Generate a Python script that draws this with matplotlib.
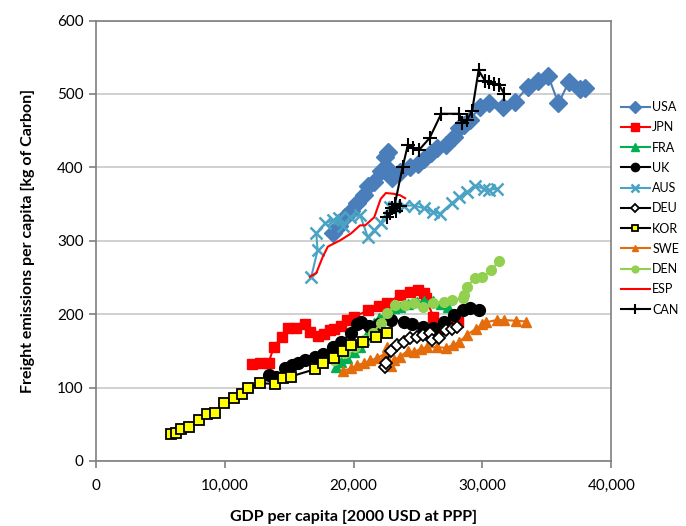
import matplotlib
matplotlib.use('Agg')
import matplotlib.pyplot as plt
from matplotlib.ticker import FuncFormatter

plt.rcParams['font.family'] = ['Lato', 'DejaVu Sans']

# GDP per capita (thousand USD) and freight emissions (kg C) per country
usa_x = [18.4, 18.9, 19.3, 19.8, 20.3, 20.8, 21.1, 21.6, 22.1, 22.4, 22.7, 22.5, 23.0, 23.6, 24.4, 25.0,
         25.5, 26.0, 26.5, 27.2, 27.8, 28.2, 28.6, 29.0, 29.8, 30.5, 31.6, 32.5, 33.5, 34.3, 35.1, 35.9,
         36.7, 37.6, 38.0]
usa_y = [310, 320, 332, 340, 351, 362, 375, 380, 395, 414, 421, 400, 385, 393, 400, 405,
         412, 420, 426, 430, 441, 453, 458, 464, 482, 487, 482, 489, 509, 518, 525, 487,
         516, 507, 508]

jpn_x = [12.1, 12.7, 13.4, 13.8, 14.4, 14.9, 15.5, 16.2, 16.6, 17.2, 17.7, 18.2, 18.5, 19.0, 19.5, 20.0,
         21.1, 22.0, 22.6, 23.6, 24.4, 25.0, 25.5, 25.6, 26.2, 26.7, 27.5, 28.1]
jpn_y = [132, 133, 134, 155, 169, 181, 181, 187, 176, 170, 173, 179, 180, 184, 192, 196,
         205, 211, 215, 226, 230, 233, 229, 222, 196, 180, 185, 190]

fra_x = [18.6, 19.0, 19.5, 20.0, 20.5, 20.8, 21.2, 21.6, 22.0, 22.5, 23.1, 23.6, 24.2, 24.9, 25.5, 26.2,
         26.8, 27.3]
fra_y = [128, 135, 140, 148, 155, 165, 178, 188, 195, 202, 208, 210, 214, 216, 218, 218,
         214, 210]

uk_x = [13.4, 14.0, 14.7, 15.2, 15.7, 16.2, 17.0, 17.6, 18.4, 19.0, 19.8, 20.3, 20.6, 21.2, 22.0, 22.9,
        23.9, 24.5, 25.4, 26.2, 27.0, 27.8, 28.5, 29.0, 29.7]
uk_y = [117, 114, 126, 131, 133, 137, 142, 146, 155, 162, 174, 186, 190, 184, 187, 192,
        190, 186, 182, 181, 190, 199, 205, 208, 205]

aus_x = [16.7, 17.2, 17.1, 17.8, 18.4, 18.9, 19.2, 19.7, 20.5, 21.1, 21.6, 22.1, 22.8, 23.1, 23.9, 24.7,
         25.5, 26.2, 26.7, 27.6, 28.2, 28.8, 29.4, 30.1, 30.5, 31.1]
aus_y = [250, 287, 310, 324, 328, 331, 320, 332, 335, 305, 314, 324, 346, 346, 348, 348,
         344, 339, 337, 351, 359, 366, 375, 371, 369, 371]

deu_x = [22.4, 22.5, 22.9, 23.4, 23.9, 24.4, 24.9, 25.4, 25.9, 26.1, 26.6, 27.2, 27.6, 28.0]
deu_y = [128, 133, 150, 158, 162, 167, 169, 172, 174, 165, 168, 178, 180, 183]

kor_x = [5.8, 6.2, 6.6, 7.2, 8.0, 8.6, 9.2, 9.9, 10.7, 11.3, 11.8, 12.7, 13.9, 14.5, 15.1, 17.0,
         17.6, 18.5, 19.2, 19.8, 20.7, 21.7, 22.6]
kor_y = [37, 38, 43, 46, 56, 64, 65, 79, 86, 91, 99, 106, 105, 113, 115, 125,
         133, 140, 150, 158, 162, 169, 174]

swe_x = [19.2, 19.8, 20.3, 20.8, 21.3, 21.8, 22.4, 22.6, 22.9, 23.1, 23.6, 24.2, 24.7, 25.2, 25.7, 26.5,
         27.2, 27.7, 28.2, 28.8, 29.5, 30.0, 30.3, 31.1, 31.7, 32.6, 33.4]
swe_y = [123, 126, 131, 133, 137, 140, 146, 155, 130, 137, 142, 150, 148, 153, 155, 155,
         154, 158, 162, 172, 180, 186, 189, 192, 192, 191, 190]

den_x = [18.5, 19.3, 20.1, 20.8, 21.5, 22.1, 22.6, 23.2, 24.0, 24.7, 25.4, 26.2, 27.0, 27.6, 28.5, 28.6,
         28.8, 29.4, 30.0, 30.7, 31.3]
den_y = [137, 147, 155, 165, 174, 188, 201, 212, 213, 215, 210, 215, 216, 219, 222, 226,
         237, 249, 250, 260, 273]

esp_x = [16.6, 17.1, 17.6, 18.0, 19.0, 19.8, 20.5, 20.9, 21.6, 22.1, 22.5, 23.1, 23.6, 24.0]
esp_y = [251, 256, 278, 292, 301, 310, 321, 321, 332, 357, 365, 364, 362, 358]

can_x = [22.6, 22.8, 23.0, 23.3, 23.6, 23.2, 23.8, 24.2, 24.6, 25.1, 25.9, 26.8, 28.2, 28.4, 28.8, 29.2,
         29.7, 30.2, 30.5, 30.9, 31.3, 31.7]
can_y = [332, 338, 345, 340, 348, 350, 400, 430, 427, 424, 440, 473, 473, 461, 464, 477,
         532, 518, 516, 514, 512, 500]

fig = plt.figure(figsize=(6.86, 5.26), dpi=100)
ax = fig.add_axes([0.140, 0.1236, 0.751, 0.8374])

k = 1000
ax.plot([v * k for v in usa_x], usa_y, color='#4A7EBB', marker='D', ms=9, lw=1.5, label='USA', zorder=3)
ax.plot([v * k for v in jpn_x], jpn_y, color='#FF0000', marker='s', ms=7.5, lw=1.5, label='JPN', zorder=3)
ax.plot([v * k for v in fra_x], fra_y, color='#00B050', marker='^', ms=7.5, lw=1.5, label='FRA', zorder=3)
ax.plot([v * k for v in uk_x], uk_y, color='black', marker='o', ms=8.5, lw=1.5, label='UK', zorder=3)
ax.plot([v * k for v in aus_x], aus_y, color='#4BA3C3', marker='x', ms=9, mew=1.8, lw=1.5, label='AUS', zorder=3)
ax.plot([v * k for v in deu_x], deu_y, color='black', marker='D', ms=6, mfc='white', mec='black', mew=1.3,
        lw=1.5, label='DEU', zorder=4)
ax.plot([v * k for v in kor_x], kor_y, color='black', marker='s', ms=7, mfc='#FFFF00', mec='black', mew=1.3,
        lw=1.5, label='KOR', zorder=4)
ax.plot([v * k for v in swe_x], swe_y, color='#E46C0A', marker='^', ms=6.5, lw=1.5, label='SWE', zorder=3)
ax.plot([v * k for v in den_x], den_y, color='#92D050', marker='o', ms=7, lw=1.5, label='DEN', zorder=3)
ax.plot([v * k for v in esp_x], esp_y, color='#FF0000', lw=1.5, label='ESP', zorder=3)
ax.plot([v * k for v in can_x], can_y, color='black', marker='+', ms=10, mew=1.5, lw=1.5, label='CAN', zorder=4)

ax.set_xlim(0, 40000)
ax.set_ylim(0, 600)
ax.set_xticks([0, 10000, 20000, 30000, 40000])
ax.set_yticks([0, 100, 200, 300, 400, 500, 600])
ax.xaxis.set_major_formatter(FuncFormatter(lambda v, p: f'{int(v):,}'))
ax.yaxis.grid(True, color='#C8C8C8', lw=1.2)
ax.set_axisbelow(True)
for s in ax.spines.values():
    s.set_color('#7F7F7F')
    s.set_linewidth(1.2)
ax.tick_params(direction='out', length=5, color='#7F7F7F', width=1.2, labelsize=11, pad=4)
ax.tick_params(axis='x', pad=8)

ax.set_xlabel('GDP per capita [2000 USD at PPP]', fontsize=11.5, fontweight='bold', labelpad=12)
ax.set_ylabel('Freight emissions per capita [kg of Carbon]', fontsize=11.5, fontweight='bold', labelpad=16)

fig.legend(loc='center left', bbox_to_anchor=(0.889, 0.604), frameon=False, fontsize=9,
           labelspacing=0.66, handlelength=2.3, handletextpad=0.2, markerscale=0.7)

plt.savefig('out.png', dpi=100)
plt.close()
